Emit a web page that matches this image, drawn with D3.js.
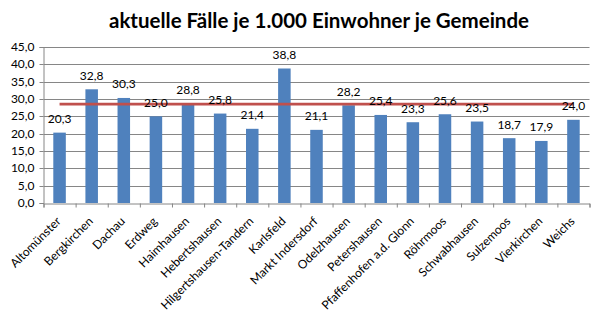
<!DOCTYPE html>
<html><head><meta charset="utf-8">
<script src="https://cdn.jsdelivr.net/npm/d3@7"></script>
<style>
html,body{margin:0;padding:0;background:#fff;}
svg{display:block;font-family:Lato,"Open Sans",sans-serif;}
</style></head>
<body>
<svg id="chart" width="597" height="324"></svg>
<script>
const title = "aktuelle Fälle je 1.000 Einwohner je Gemeinde";
const categories = ["Altomünster","Bergkirchen","Dachau","Erdweg","Haimhausen","Hebertshausen","Hilgertshausen-Tandern","Karlsfeld","Markt Indersdorf","Odelzhausen","Petershausen","Pfaffenhofen a.d. Glonn","Röhrmoos","Schwabhausen","Sulzemoos","Vierkirchen","Weichs"];
const values = [20.3,32.8,30.3,25.0,28.8,25.8,21.4,38.8,21.1,28.2,25.4,23.3,25.6,23.5,18.7,17.9,24.0];
const averageValues = [28.5,28.5,28.5,28.5,28.5,28.5,28.5,28.5,28.5,28.5,28.5,28.5,28.5,28.5,28.5,28.5,28.5];
const yTicks = [0,5,10,15,20,25,30,35,40,45];

(function(){
const svg = d3.select("#chart");
const fmt = v => d3.format(".1f")(v).replace(".", ",");

const pl = 43.5, pr = 589.5, pt = 47, pb = 203;
const x = d3.scaleBand().domain(categories).range([pl, pr]).paddingInner(0.61).paddingOuter(0.305);
const xc = d3.scalePoint().domain(categories).range([pl, pr]).padding(0.5);
const y = d3.scaleLinear().domain([0,45]).range([pb, pt]);

svg.append("text").attr("x", 319).attr("y", 28).attr("text-anchor","middle")
  .attr("font-size", 20.5).attr("font-weight","bold").attr("fill","#000").text(title);

svg.append("g").selectAll("line").data(yTicks.filter(d=>d>0)).join("line")
  .attr("x1", pl).attr("x2", pr).attr("y1", d=>Math.round(y(d))+0.5).attr("y2", d=>Math.round(y(d))+0.5)
  .attr("stroke","#868686").attr("stroke-width",1);

const yAxis = d3.axisLeft(y).tickValues(yTicks).tickFormat(fmt).tickSize(4).tickPadding(5);
const gy = svg.append("g").attr("transform",`translate(${pl},0)`).call(yAxis);
gy.selectAll("path,line").attr("stroke","#868686");
gy.selectAll("text").attr("font-size",12).attr("fill","#000").attr("font-family","Lato,sans-serif");
gy.selectAll(".tick").attr("transform", d=>`translate(0,${Math.round(y(d))+0.5})`);

svg.append("g").selectAll("rect").data(values).join("rect")
  .attr("x",(d,i)=>x(categories[i])).attr("width",x.bandwidth())
  .attr("y",d=>y(d)).attr("height",d=>y(0)-y(d)).attr("fill","#4F81BD");

const xTickScale = d3.scaleLinear().domain([0, categories.length]).range([pl, pr]);
const xAxis = d3.axisBottom(xTickScale).tickValues(d3.range(categories.length+1)).tickFormat("").tickSize(4);
const gx = svg.append("g").attr("transform",`translate(0,${pb+0.5})`).call(xAxis);
gx.select(".domain").attr("stroke","#868686");
gx.selectAll("line").attr("stroke","#868686");

svg.append("g").selectAll("text").data(categories).join("text")
  .attr("transform", d=>`translate(${xc(d)+2},${222}) rotate(-45)`)
  .attr("text-anchor","end").attr("font-size",12).attr("fill","#000").text(d=>d);

const line = d3.line().x((d,i)=>xc(categories[i])).y(d=>y(d));
svg.append("path").datum(averageValues).attr("d",line)
  .attr("fill","none").attr("stroke","#C0504D").attr("stroke-width",2.75);

svg.append("g").selectAll("text").data(values).join("text")
  .attr("x",(d,i)=>xc(categories[i])).attr("y",d=>y(d)-9.5)
  .attr("text-anchor","middle").attr("font-size",12).attr("fill","#000").text(d=>fmt(d));
})();
</script>
</body></html>
